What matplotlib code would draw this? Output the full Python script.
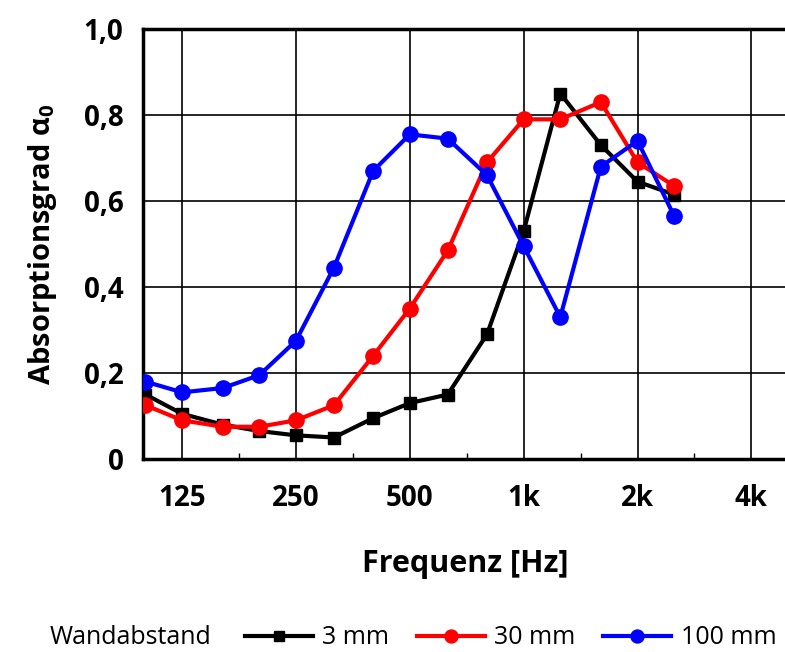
import matplotlib
matplotlib.use("Agg")
import matplotlib.pyplot as plt
from matplotlib.ticker import FixedLocator, FixedFormatter, NullFormatter

plt.rcParams["font.family"] = ["Open Sans", "DejaVu Sans"]

# third-octave band centres
freq = [100, 125, 160, 200, 250, 315, 400, 500, 630, 800, 1000, 1250, 1600, 2000, 2500]

alpha_3mm = [0.15, 0.105, 0.08, 0.065, 0.055, 0.05, 0.095, 0.13, 0.15, 0.29,
             0.53, 0.85, 0.73, 0.645, 0.615]
alpha_30mm = [0.125, 0.09, 0.075, 0.075, 0.09, 0.125, 0.24, 0.35, 0.485, 0.69,
              0.79, 0.79, 0.83, 0.69, 0.635]
alpha_100mm = [0.18, 0.155, 0.165, 0.195, 0.275, 0.445, 0.67, 0.755, 0.745, 0.66,
               0.495, 0.33, 0.68, 0.74, 0.565]

xticks = [125, 250, 500, 1000, 2000, 4000]
xticklabels = ["125", "250", "500", "1k", "2k", "4k"]
xminor = [177, 354, 707, 1414, 2828]
yticks = [0, 0.2, 0.4, 0.6, 0.8, 1.0]
yticklabels = ["0", "0,2", "0,4", "0,6", "0,8", "1,0"]

fig = plt.figure(figsize=(7.85, 6.52), dpi=100)
ax = fig.add_axes([143 / 785, 1 - 459 / 652, 645 / 785, 430 / 652])

ax.plot(freq, alpha_3mm, color="black", lw=3, marker="s", ms=9, label="3 mm", zorder=3)
ax.plot(freq, alpha_30mm, color="red", lw=3, marker="o", ms=11, label="30 mm", zorder=4)
ax.plot(freq, alpha_100mm, color="blue", lw=3, marker="o", ms=11, label="100 mm", zorder=5)

ax.set_xscale("log")
ax.set_xlim(98.5, 5000)
ax.set_ylim(0, 1.0)
ax.xaxis.set_major_locator(FixedLocator(xticks))
ax.xaxis.set_major_formatter(FixedFormatter(xticklabels))
ax.xaxis.set_minor_locator(FixedLocator(xminor))
ax.xaxis.set_minor_formatter(NullFormatter())
ax.yaxis.set_major_locator(FixedLocator(yticks))
ax.yaxis.set_major_formatter(FixedFormatter(yticklabels))

ax.grid(True, which="major", color="black", lw=1.2)
ax.tick_params(axis="x", which="major", length=0, pad=18, labelsize=20)
ax.tick_params(axis="x", which="minor", length=4, width=1, direction="in")
ax.tick_params(axis="y", which="major", length=0, pad=14, labelsize=20)
for lab in ax.get_xticklabels() + ax.get_yticklabels():
    lab.set_fontweight("bold")

for s in ax.spines.values():
    s.set_linewidth(2.5)

ax.set_xlabel("Frequenz [Hz]", fontsize=22, fontweight="bold", labelpad=26)
ax.set_ylabel(r"Absorptionsgrad $\mathregular{\alpha_0}$", fontsize=21, fontweight="bold",
              labelpad=18)

fig.text(50 / 785, 1 - 638 / 652, "Wandabstand", fontsize=18, va="center", ha="left")
fig.legend(loc="center left", bbox_to_anchor=(245 / 785, 1 - 638 / 652), ncol=3,
           frameon=False, fontsize=18, handlelength=2.7, columnspacing=1.1,
           handletextpad=0.4, borderaxespad=0, borderpad=0, markerscale=0.85)

fig.savefig("out.png", dpi=100)
